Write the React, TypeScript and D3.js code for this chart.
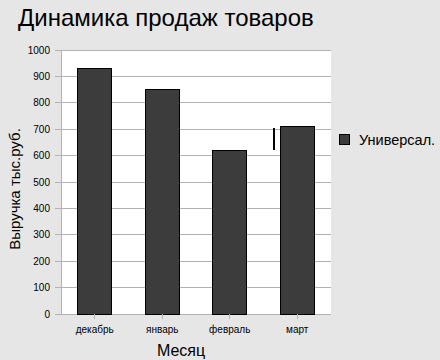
import React from "react";
import * as d3 from "d3";

const categories = ["декабрь", "январь", "февраль", "март"];
const values = [930, 850, 620, 710];
const yTicks = [0, 100, 200, 300, 400, 500, 600, 700, 800, 900, 1000];
const seriesName = "Универсал.";

export default function App() {
  const W = 440, H = 360;
  const left = 61, right = 331, top = 50, bottom = 314;
  const x = d3.scaleBand<string>().domain(categories).range([left, right]).paddingInner(0.5).paddingOuter(0.25);
  const y = d3.scaleLinear().domain([0, 1000]).range([bottom, top]);
  const font = "Liberation Sans, Arial, sans-serif";
  return (
    <svg width={W} height={H} style={{ position: "absolute", left: 0, top: 0 }} fontFamily={font}>
      <rect x={0} y={0} width={W} height={H} fill="#e6e6e6" />
      <text x={18} y={26} fontSize={24} fill="#000">Динамика продаж товаров</text>
      <rect x={left} y={top} width={right - left} height={bottom - top} fill="#fff" />
      {yTicks.map((t) => (
        <g key={t}>
          <line x1={left - 6} x2={right} y1={y(t)} y2={y(t)} stroke="#b3b3b3" strokeWidth={1} shapeRendering="crispEdges" />
          <text x={50} y={y(t) + 3.5} fontSize={10} textAnchor="end" fill="#000">{t}</text>
        </g>
      ))}
      <line x1={left} x2={left} y1={top} y2={bottom} stroke="#b3b3b3" shapeRendering="crispEdges" />
      {categories.map((c, i) => (
        <g key={c}>
          <rect x={x(c)!} y={y(values[i])} width={x.bandwidth()} height={bottom - y(values[i])} fill="#3c3c3c" stroke="#000" strokeWidth={1} shapeRendering="crispEdges" />
          <line x1={x(c)! + x.bandwidth() / 2} x2={x(c)! + x.bandwidth() / 2} y1={bottom} y2={bottom + 5} stroke="#b3b3b3" shapeRendering="crispEdges" />
          <text x={x(c)! + x.bandwidth() / 2} y={333} fontSize={10} textAnchor="middle" fill="#000">{c}</text>
        </g>
      ))}
      <line x1={274} x2={274} y1={128} y2={150} stroke="#000" strokeWidth={2} />
      <text x={181} y={356} fontSize={16} textAnchor="middle" fill="#000">Месяц</text>
      <text transform={`translate(20,189) rotate(-90)`} fontSize={15} textAnchor="middle" fill="#000">Выручка тыс.руб.</text>
      <rect x={339.5} y={134.5} width={10} height={10} fill="#3c3c3c" stroke="#000" strokeWidth={1} shapeRendering="crispEdges" />
      <text x={359} y={145} fontSize={14.5} fill="#000">{seriesName}</text>
    </svg>
  );
}
